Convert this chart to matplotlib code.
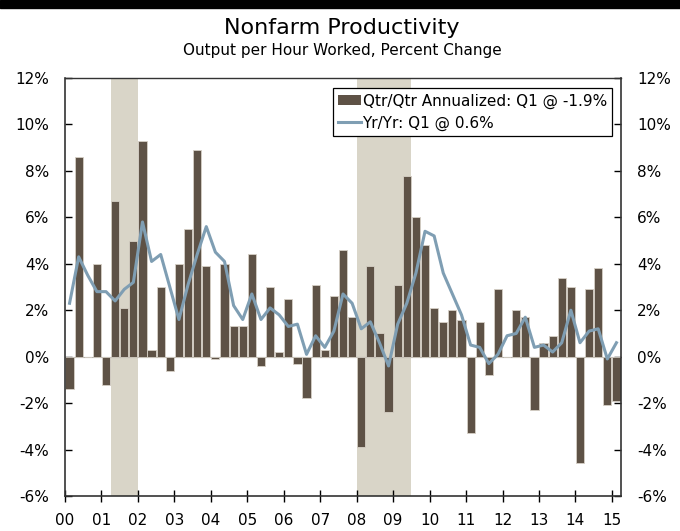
import matplotlib
matplotlib.use("Agg")
import matplotlib.pyplot as plt
from matplotlib.patches import Patch, Rectangle
from matplotlib.lines import Line2D

# Quarterly data, 2000 Q1 - 2015 Q1
qtr_annualized = [-1.4, 8.6, 0.0, 4.0,
                  -1.2, 6.7, 2.1, 5.0,
                  9.3, 0.3, 3.0, -0.6,
                  4.0, 5.5, 8.9, 3.9,
                  -0.1, 4.0, 1.3, 1.3,
                  4.4, -0.4, 3.0, 0.2,
                  2.5, -0.3, -1.8, 3.1,
                  0.3, 2.6, 4.6, 1.7,
                  -3.9, 3.9, 1.0, -2.4,
                  3.1, 7.8, 6.0, 4.8,
                  2.1, 1.5, 2.0, 1.6,
                  -3.3, 1.5, -0.8, 2.9,
                  0.0, 2.0, 1.7, -2.3,
                  0.6, 0.9, 3.4, 3.0,
                  -4.6, 2.9, 3.8, -2.1,
                  -1.9]
yr_yr = [2.3, 4.3, 3.5, 2.8,
         2.8, 2.4, 2.9, 3.2,
         5.8, 4.1, 4.4, 3.0,
         1.6, 3.1, 4.4, 5.6,
         4.5, 4.1, 2.2, 1.6,
         2.7, 1.6, 2.1, 1.8,
         1.3, 1.4, 0.1, 0.9,
         0.4, 1.1, 2.7, 2.3,
         1.2, 1.5, 0.6, -0.4,
         1.4, 2.3, 3.6, 5.4,
         5.2, 3.6, 2.7, 1.8,
         0.5, 0.4, -0.3, 0.1,
         0.9, 1.0, 1.7, 0.4,
         0.5, 0.2, 0.6, 2.0,
         0.6, 1.1, 1.2, -0.1,
         0.6]
year_labels = ["00", "01", "02", "03", "04", "05", "06", "07",
               "08", "09", "10", "11", "12", "13", "14", "15"]
recessions = [(4.5, 7.5), (31.5, 37.5)]

bar_color = "#5e5246"
line_color = "#7f9eb3"
shade_color = "#d9d5c8"

fig = plt.figure(figsize=(6.8, 5.31), dpi=100)
ax = fig.add_axes([65 / 680, 1 - 496 / 531, 556 / 680, 418 / 531])

# Black band at the top of the figure
fig.add_artist(Rectangle((0, 1 - 8 / 531), 1, 8 / 531, transform=fig.transFigure,
                         color="black", zorder=5))

x = list(range(len(qtr_annualized)))

for start, end in recessions:
    ax.axvspan(start, end, color=shade_color, lw=0, zorder=0)

ax.axhline(0, color="#9a9a9a", lw=0.8, zorder=1)
ax.bar(x, qtr_annualized, width=0.9, color=bar_color, edgecolor="#d6d0c6",
       linewidth=0.6, zorder=2)
ax.plot(x, yr_yr, color=line_color, lw=2.2, zorder=3)

ax.set_xlim(-0.5, len(x) - 0.5)
ax.set_ylim(-6, 12)
ax.set_yticks(range(-6, 13, 2))
ax.set_yticklabels([f"{v}%" for v in range(-6, 13, 2)])
ax.set_xticks([-0.5 + 4 * i for i in range(len(year_labels))])
ax.set_xticklabels(year_labels)

ax.tick_params(axis="y", direction="in", length=5, width=1, pad=11.5,
               labelsize=11, left=True, right=True, labelleft=True,
               labelright=True, colors="black")
ax.tick_params(axis="x", direction="inout", length=9, width=1, pad=8,
               labelsize=11)
for side in ["left", "right", "bottom", "top"]:
    ax.spines[side].set_color("#333333")
    ax.spines[side].set_linewidth(1.2)
ax.spines["top"].set_linewidth(1.0)

handles = [Patch(facecolor=bar_color, edgecolor="none"),
           Line2D([], [], color=line_color, lw=2.2)]
leg = ax.legend(handles, ["Qtr/Qtr Annualized: Q1 @ -1.9%", "Yr/Yr: Q1 @ 0.6%"],
                loc="upper right", bbox_to_anchor=(0.984, 0.976), fontsize=11,
                frameon=True, fancybox=False, framealpha=1, edgecolor="black",
                borderpad=0.35, handlelength=1.5, handletextpad=0.1,
                labelspacing=0.45, borderaxespad=0)
leg.get_frame().set_linewidth(0.9)

fig.text(0.503, 1 - 28 / 531, "Nonfarm Productivity", ha="center", va="center",
         fontsize=16)
fig.text(0.503, 1 - 51 / 531, "Output per Hour Worked, Percent Change",
         ha="center", va="center", fontsize=11)

fig.savefig("out.png", dpi=100)
